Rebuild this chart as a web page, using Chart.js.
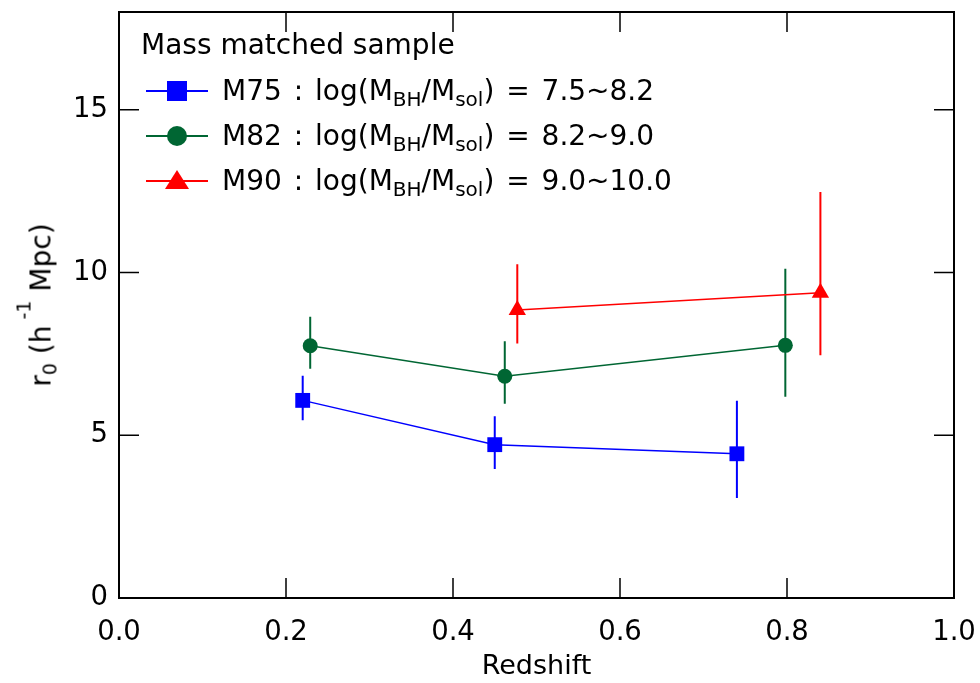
<!DOCTYPE html>
<html>
<head>
<meta charset="utf-8">
<script src="https://cdn.jsdelivr.net/npm/chart.js@4.4.1/dist/chart.umd.min.js"></script>
<style>
  body { margin: 0; background: #fff; }
  #wrap { position: relative; width: 980px; height: 683px; font-family: 'DejaVu Sans', sans-serif; color: #000; }
  canvas { position: absolute; left: 0; top: 0; }
  .lg { position: absolute; left: 141px; font-size: 28px; white-space: nowrap; line-height: 30px; }
  .row { position: absolute; left: 146px; height: 30px; }
  .row .ln { position: absolute; left: 0; top: 14px; width: 62px; height: 2px; }
  .row .txt { position: absolute; left: 76px; top: 0; font-size: 28px; white-space: nowrap; line-height: 30px; word-spacing: 3px; }
  .row .txt sub { font-size: 20px; vertical-align: -6px; line-height: 0; }
  .mk { position: absolute; }
  #ytitle { position: absolute; left: 40px; top: 305px; transform: translate(-50%, -50%) rotate(-90deg); font-size: 28px; white-space: nowrap; line-height: 30px; }
  #ytitle sub { font-size: 19px; vertical-align: -6px; line-height: 0; }
  #ytitle sup { font-size: 19px; vertical-align: 20px; line-height: 0; }
</style>
</head>
<body>
<div id="wrap">
  <canvas id="chart" width="980" height="683"></canvas>
  <div class="lg" style="top: 30px;">Mass matched sample</div>
  <div class="row" style="top: 76px;">
    <div class="ln" style="background:#0000ff"></div>
    <div class="mk" style="left:21px; top:5px; width:20px; height:20px; background:#0000ff"></div>
    <div class="txt">M75 : log(M<sub>BH</sub>/M<sub>sol</sub>) = 7.5~8.2</div>
  </div>
  <div class="row" style="top: 121px;">
    <div class="ln" style="background:#006633"></div>
    <div class="mk" style="left:21px; top:5px; width:20px; height:20px; border-radius:50%; background:#006633"></div>
    <div class="txt">M82 : log(M<sub>BH</sub>/M<sub>sol</sub>) = 8.2~9.0</div>
  </div>
  <div class="row" style="top: 166px;">
    <div class="ln" style="background:#ff0000"></div>
    <div class="mk" style="left:19px; top:4px; width:0; height:0; border-left:12px solid transparent; border-right:12px solid transparent; border-bottom:19px solid #ff0000"></div>
    <div class="txt">M90 : log(M<sub>BH</sub>/M<sub>sol</sub>) = 9.0~10.0</div>
  </div>
  <div id="ytitle">r<sub>0</sub> (h<sup> -1</sup> Mpc)</div>
</div>
<script>
// redshift, r0 and error bar ends
const m75Z = [0.22, 0.45, 0.74];
const m75R = [6.07, 4.71, 4.43];
const m75Lo = [5.46, 3.96, 3.07];
const m75Hi = [6.83, 5.58, 6.06];

const m82Z = [0.229, 0.462, 0.798];
const m82R = [7.75, 6.81, 7.76];
const m82Lo = [7.04, 5.97, 6.18];
const m82Hi = [8.64, 7.89, 10.11];

const m90Z = [0.477, 0.84];
const m90R = [8.85, 9.38];
const m90Lo = [7.82, 7.46];
const m90Hi = [10.25, 12.47];

const xTicks = [0, 0.2, 0.4, 0.6, 0.8, 1.0];
const yTicks = [0, 5, 10, 15];

const FONT = "'DejaVu Sans', sans-serif";

function points(xs, ys) {
    return xs.map((x, i) => ({ x: x, y: ys[i] }));
}

// vertical error bars as one broken line (null y splits the segments)
function errBars(xs, lo, hi) {
    const out = [];
    xs.forEach((x, i) => {
        out.push({ x: x, y: lo[i] });
        out.push({ x: x, y: hi[i] });
        out.push({ x: x, y: null });
    });
    return out;
}

function series(data, color, style, radius) {
    return {
        data: data,
        showLine: true,
        borderColor: color,
        backgroundColor: color,
        borderWidth: 1.5,
        pointStyle: style,
        pointRadius: radius,
        pointBorderWidth: 0,
        order: 1
    };
}

function bars(data, color) {
    return {
        data: data,
        showLine: true,
        spanGaps: false,
        borderColor: color,
        borderWidth: 2,
        pointRadius: 0,
        order: 2
    };
}

// inward ticks on all four sides
const innerTicks = {
    id: 'innerTicks',
    afterDraw(chart) {
        const { ctx, chartArea: a, scales } = chart;
        ctx.save();
        ctx.strokeStyle = '#000';
        ctx.lineWidth = 1.5;
        ctx.beginPath();
        xTicks.forEach(v => {
            const px = scales.x.getPixelForValue(v);
            if (px <= a.left + 1 || px >= a.right - 1) return;
            ctx.moveTo(px, a.bottom); ctx.lineTo(px, a.bottom - 20);
            ctx.moveTo(px, a.top); ctx.lineTo(px, a.top + 20);
        });
        yTicks.forEach(v => {
            const py = scales.y.getPixelForValue(v);
            if (py >= a.bottom - 1 || py <= a.top + 1) return;
            ctx.moveTo(a.left, py); ctx.lineTo(a.left + 20, py);
            ctx.moveTo(a.right, py); ctx.lineTo(a.right - 20, py);
        });
        ctx.stroke();
        ctx.restore();
    }
};

const axisBorder = { display: true, color: '#000', width: 2 };

function noPad(s) {
    s.paddingLeft = 0; s.paddingRight = 0; s.paddingTop = 0; s.paddingBottom = 0;
}

new Chart(document.getElementById('chart').getContext('2d'), {
    type: 'scatter',
    data: {
        datasets: [
            series(points(m75Z, m75R), '#0000ff', 'rect', 10.5),
            series(points(m82Z, m82R), '#006633', 'circle', 7.5),
            series(points(m90Z, m90R), '#ff0000', 'triangle', 10),
            bars(errBars(m75Z, m75Lo, m75Hi), '#0000ff'),
            bars(errBars(m82Z, m82Lo, m82Hi), '#006633'),
            bars(errBars(m90Z, m90Lo, m90Hi), '#ff0000')
        ]
    },
    options: {
        responsive: false,
        animation: false,
        layout: { padding: { top: 12, right: 26, left: 0, bottom: 0 } },
        plugins: {
            legend: { display: false },
            tooltip: { enabled: false }
        },
        scales: {
            x: {
                type: 'linear',
                min: 0,
                max: 1,
                afterBuildTicks: s => { s.ticks = xTicks.map(v => ({ value: v })); },
                afterFit: s => { s.height = 85; noPad(s); },
                grid: { display: false, drawTicks: false },
                border: axisBorder,
                ticks: {
                    padding: 18,
                    color: '#000',
                    font: { family: FONT, size: 27.5 },
                    maxRotation: 0,
                    callback: v => v.toFixed(1)
                },
                title: {
                    display: true,
                    text: 'Redshift',
                    color: '#000',
                    font: { family: FONT, size: 27 },
                    padding: { top: 0, bottom: 0 }
                }
            },
            y: {
                type: 'linear',
                min: 0,
                max: 18,
                afterBuildTicks: s => { s.ticks = yTicks.map(v => ({ value: v })); },
                afterFit: s => { s.width = 119; noPad(s); },
                grid: { display: false, drawTicks: false },
                border: axisBorder,
                ticks: {
                    padding: 11,
                    color: '#000',
                    font: { family: FONT, size: 27.5 }
                }
            },
            x2: {
                type: 'linear',
                position: 'top',
                min: 0,
                max: 1,
                afterFit: s => { s.height = 0; noPad(s); },
                grid: { display: false, drawTicks: false },
                border: axisBorder,
                ticks: { display: false }
            },
            y2: {
                type: 'linear',
                position: 'right',
                min: 0,
                max: 18,
                afterFit: s => { s.width = 0; noPad(s); },
                grid: { display: false, drawTicks: false },
                border: axisBorder,
                ticks: { display: false }
            }
        }
    },
    plugins: [innerTicks]
});
</script>
</body>
</html>
